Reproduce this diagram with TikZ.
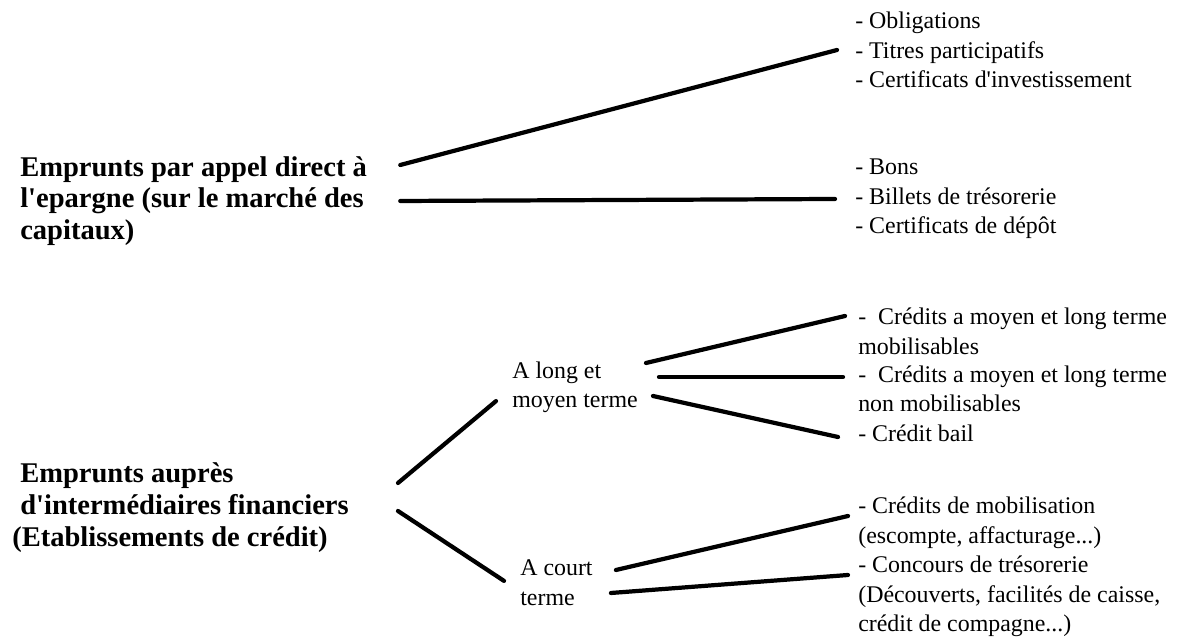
\documentclass[tikz,border=0pt]{standalone}
\usepackage{fontspec}
\setmainfont{Liberation Serif}[Ligatures=TeXOff]
\usepackage{tikz}
\tikzset{
    txt/.style={anchor=west,inner sep=0pt,align=left,font=\fontsize{17}{21}\selectfont},
    bigtxt/.style={txt,font=\fontsize{20.3}{22.6}\selectfont\bfseries},
    branch/.style={line width=3pt,line cap=round}
}
\begin{document}
\begin{tikzpicture}
    \fill[white] (0,0) rectangle (29.6,15.975);
    \node[bigtxt] (appel) at (0.5,10.95) {Emprunts par appel direct à\\l'epargne (sur le marché des\\capitaux)};
    \node[bigtxt] (inter) at (0.3,3.2875) {\hspace*{0.2cm}Emprunts auprès\\\hspace*{0.2cm}d'intermédiaires financiers\\(Etablissements de crédit)};
    \node[txt] (oblig) at (21.375,14.725) {- Obligations\\- Titres participatifs\\- Certificats d'investissement};
    \node[txt] (bons) at (21.375,11.0) {- Bons\\- Billets de trésorerie\\- Certificats de dépôt};
    \node[txt] (long) at (12.8,6.2875) {A long et\\moyen terme};
    \node[txt] (court) at (13.0,1.4125) {A court\\terme};
    \node[txt] (mob) at (21.45,7.6875) {-~ Crédits a moyen et long terme\\mobilisables};
    \node[txt] (nonmob) at (21.45,6.25) {-~ Crédits a moyen et long terme\\non mobilisables};
    \node[txt] (bail) at (21.45,5.15) {- Crédit bail};
    \node[txt] (mobil) at (21.45,2.9) {- Crédits de mobilisation\\(escompte, affacturage...)};
    \node[txt] (conc) at (21.45,1.0625) {- Concours de trésorerie\\(Découverts, facilités de caisse,\\crédit de compagne...)};
    \draw[branch] ([xshift=0.825cm,yshift=0.9cm]appel.east) -- ([xshift=-0.45cm]oblig.west);
    \draw[branch] ([xshift=0.825cm]appel.east) -- ([xshift=-0.5cm]bons.west);
    \draw[branch] ([xshift=1.225cm,yshift=0.6125cm]inter.east) -- ([xshift=-0.4cm,yshift=-0.34cm]long.west);
    \draw[branch] ([xshift=1.225cm,yshift=-0.0875cm]inter.east) -- ([xshift=-0.4cm,yshift=0.04cm]court.west);
    \draw[branch] ([xshift=0.2cm,yshift=0.6125cm]long.east) -- ([xshift=-0.325cm,yshift=0.3875cm]mob.west);
    \draw[branch] ([xshift=0.525cm,yshift=0.2625cm]long.east) -- ([xshift=-0.375cm,yshift=0.3cm]nonmob.west);
    \draw[branch] ([xshift=0.375cm,yshift=-0.2125cm]long.east) -- ([xshift=-0.5cm,yshift=-0.1cm]bail.west);
    \draw[branch] ([xshift=0.575cm,yshift=0.3125cm]court.east) -- ([xshift=-0.25cm,yshift=0.175cm]mobil.west);
    \draw[branch] ([xshift=0.45cm,yshift=-0.2625cm]court.east) -- ([xshift=-0.25cm,yshift=0.5375cm]conc.west);
\end{tikzpicture}
\end{document}
